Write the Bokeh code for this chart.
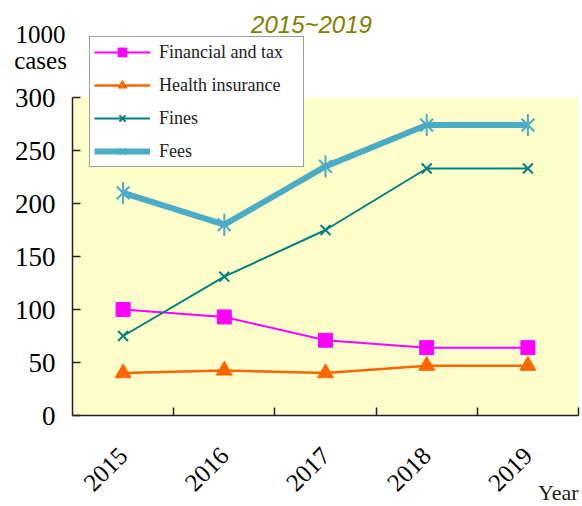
import math
from bokeh.plotting import figure
from bokeh.models import (Range1d, FixedTicker, Legend, LegendItem, Label, BoxAnnotation)
from bokeh.embed import file_html
from bokeh.resources import INLINE

years = ["2015", "2016", "2017", "2018", "2019"]
financial = [100, 93, 71, 64, 64]
health = [40, 42.5, 40, 47, 47]
fines = [75, 131, 175, 233, 233]
fees = [210, 180, 235, 274, 274]
y_ticks = [0, 50, 100, 150, 200, 250, 300]
unit_lines = ["1000", "cases"]
title_text = "2015~2019"
x_title = "Year"

SERIF = "Liberation Serif"
W, H = 582, 506
PL, PR = 72, 578                  # plot-area left/right pixel columns
ZERO_PX, TOP_PX = 415, 97         # pixel rows of 0 and of the top tick
n = len(years)
ppx = (PR - PL) / n
ppu = (ZERO_PX - TOP_PX) / max(y_ticks)

xs = [i + 0.5 for i in range(n)]

p = figure(width=W, height=H, output_backend="svg", toolbar_location=None,
           x_range=Range1d(-PL / ppx, n + (W - PR) / ppx),
           y_range=Range1d(-(H - ZERO_PX) / ppu, ZERO_PX / ppu),
           min_border_left=0, min_border_right=0, min_border_top=0, min_border_bottom=0)
p.background_fill_color = "white"
p.border_fill_color = "white"
p.outline_line_color = None
p.xgrid.grid_line_color = None
p.ygrid.grid_line_color = None

# yellow plot area
p.add_layout(BoxAnnotation(left=0, right=n, bottom=0, top=max(y_ticks),
                           fill_color="#FFFFCC", fill_alpha=1.0,
                           line_color=None, level="underlay"))

# x axis (drawn at y = 0)
xa = p.xaxis[0]
xa.fixed_location = 0
xa.bounds = (0, n)
xa.ticker = FixedTicker(ticks=xs, minor_ticks=[i + 1 for i in range(n)])
xa.major_label_overrides = {x: y for x, y in zip(xs, years)}
xa.major_tick_in = 0
xa.major_tick_out = 0
xa.minor_tick_in = 8
xa.minor_tick_out = 0
xa.minor_tick_line_color = "#222222"
xa.minor_tick_line_width = 1.5
xa.axis_line_color = "#222222"
xa.axis_line_width = 1.5
xa.major_label_orientation = math.pi / 4
xa.major_label_text_font = SERIF
xa.major_label_text_font_size = "25px"
xa.major_label_text_color = "black"
xa.major_label_standoff = 36

# y axis (drawn at x = 0)
ya = p.yaxis[0]
ya.fixed_location = 0
ya.ticker = FixedTicker(ticks=y_ticks)
ya.bounds = (0, max(y_ticks))
ya.major_tick_in = 8
ya.major_tick_out = 0
ya.minor_tick_line_color = None
ya.major_tick_line_color = "#222222"
ya.major_tick_line_width = 1.5
ya.axis_line_color = "#222222"
ya.axis_line_width = 1.5
ya.major_label_text_font = SERIF
ya.major_label_text_font_size = "27px"
ya.major_label_text_color = "black"
ya.major_label_standoff = 17

# series
l1 = p.line(xs, financial, line_color="#FF00FF", line_width=2)
s1 = p.scatter(xs, financial, marker="square", size=14, fill_color="#FF00FF", line_color="#FF00FF")
l2 = p.line(xs, health, line_color="#FF6600", line_width=2.5)
s2 = p.scatter(xs, health, marker="triangle", size=16, fill_color="#FF6600", line_color="#FF6600")
l3 = p.line(xs, fines, line_color="#008080", line_width=2)
s3 = p.scatter(xs, fines, marker="x", size=14, line_color="#008080", line_width=2)
l4 = p.line(xs, fees, line_color="#4BACC6", line_width=6)
s4 = p.scatter(xs, fees, marker="x", size=18, line_color="#4BACC6", line_width=2)
s4b = p.scatter(xs, fees, marker="dash", size=22, angle=math.pi / 2, line_color="#4BACC6", line_width=2)

legend = Legend(items=[
    LegendItem(label="Financial and tax", renderers=[l1, s1]),
    LegendItem(label="Health insurance", renderers=[l2, s2]),
    LegendItem(label="Fines", renderers=[l3, s3]),
    LegendItem(label="Fees", renderers=[l4, s4, s4b]),
], location=(89, H - 167), orientation="vertical")
legend.padding = 4
legend.spacing = 11
legend.margin = 0
legend.glyph_width = 56
legend.glyph_height = 22
legend.label_height = 22
legend.label_width = 140
legend.label_standoff = 9
legend.label_text_font = SERIF
legend.label_text_font_size = "18px"
legend.label_text_color = "#222222"
legend.border_line_color = "#404040"
legend.border_line_width = 1.5
legend.background_fill_color = "white"
legend.background_fill_alpha = 1.0
p.add_layout(legend, "center")

# texts (screen units; origin at canvas bottom-left)
p.add_layout(Label(x=311, y=H - 24, x_units="screen", y_units="screen", text=title_text,
                   text_font="Liberation Sans", text_font_style="italic", text_font_size="24px",
                   text_color="#808000", text_align="center", text_baseline="middle"))
for txt, ymid in zip(unit_lines, [33.5, 59.5]):
    p.add_layout(Label(x=40, y=H - ymid, x_units="screen", y_units="screen", text=txt,
                       text_font=SERIF, text_font_size="25px", text_color="black",
                       text_align="center", text_baseline="middle"))
p.add_layout(Label(x=PR, y=H - 491.5, x_units="screen", y_units="screen", text=x_title,
                   text_font=SERIF, text_font_size="22px", text_color="#222222",
                   text_align="right", text_baseline="middle"))

open("out.html", "w").write(file_html(p, INLINE))
